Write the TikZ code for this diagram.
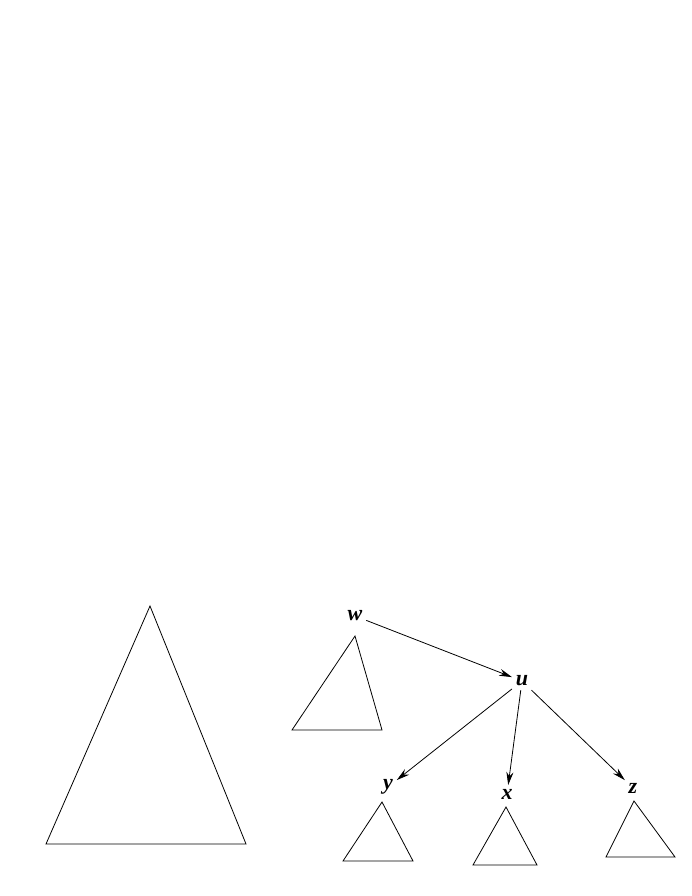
\documentclass[tikz,border=0pt]{standalone}
\usepackage{fontspec}
\setmainfont{Liberation Serif}
\usetikzlibrary{arrows.meta}

\begin{document}
\begin{tikzpicture}[x=1pt,y=-1pt,line width=0.8pt,
  lab/.style={font=\fontsize{22}{26}\selectfont\bfseries\itshape,inner sep=3.5pt},
  fleche/.style={-{Stealth[length=13pt,width=7pt]}}]
  \useasboundingbox (0,0) rectangle (692,896);
  \draw (150,606) -- (246,844) -- (46,844) -- cycle;
  \draw (355,636) -- (382,730) -- (292,730) -- cycle;
  \draw (382,802) -- (413,861) -- (343,861) -- cycle;
  \draw (506,807) -- (537,865) -- (473,865) -- cycle;
  \draw (634,801) -- (675,857) -- (606,857) -- cycle;
  \node[lab] (w) at (355,616) {w};
  \node[lab] (u) at (522,681) {u};
  \node[lab] (y) at (388,787) {y};
  \node[lab] (x) at (507,794) {x};
  \node[lab] (z) at (633,788) {z};
  \draw[fleche] (w) -- (u);
  \draw[fleche] (u) -- (y);
  \draw[fleche] (u) -- (x);
  \draw[fleche] (u) -- (z);
\end{tikzpicture}
\end{document}
